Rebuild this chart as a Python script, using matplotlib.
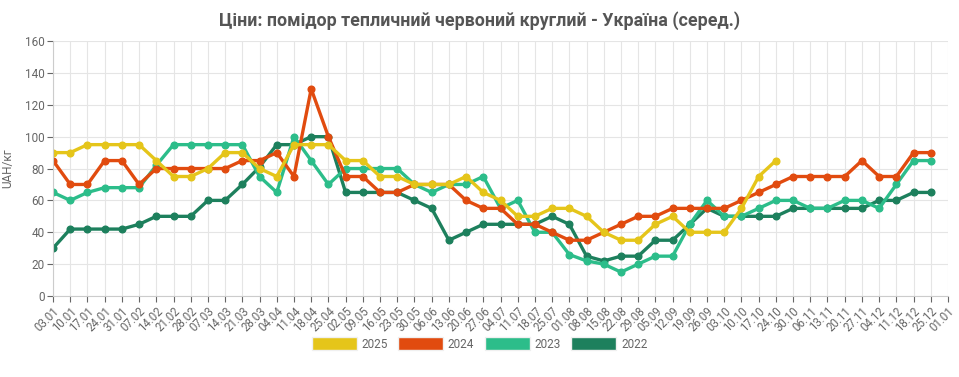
import matplotlib
matplotlib.use("Agg")
from matplotlib import pyplot as plt
from matplotlib.patches import Patch

plt.rcParams['font.family'] = ['Roboto', 'DejaVu Sans']

# підписи тижнів
weeks = ["03.01", "10.01", "17.01", "24.01", "31.01", "07.02", "14.02", "21.02", "28.02",
         "07.03", "14.03", "21.03", "28.03", "04.04", "11.04", "18.04", "25.04", "02.05",
         "09.05", "16.05", "23.05", "30.05", "06.06", "13.06", "20.06", "27.06", "04.07",
         "11.07", "18.07", "25.07", "01.08", "08.08", "15.08", "22.08", "29.08", "05.09",
         "12.09", "19.09", "26.09", "03.10", "10.10", "17.10", "24.10", "30.10", "06.11",
         "13.11", "20.11", "27.11", "04.12", "11.12", "18.12", "25.12", "01.01"]

y2025 = [90, 90, 95, 95, 95, 95, 85, 75, 75, 80, 90, 90, 80, 75, 95, 95, 95, 85, 85, 75,
         75, 70, 70, 70, 75, 65, 60, 50, 50, 55, 55, 50, 40, 35, 35, 45, 50, 40, 40, 40,
         55, 75, 85]
y2024 = [85, 70, 70, 85, 85, 70, 80, 80, 80, 80, 80, 85, 85, 90, 75, 130, 100, 75, 75, 65,
         65, 70, 70, 70, 60, 55, 55, 45, 45, 40, 35, 35, 40, 45, 50, 50, 55, 55, 55, 55,
         60, 65, 70, 75, 75, 75, 75, 85, 75, 75, 90, 90]
y2023 = [65, 60, 65, 68, 68, 68, 82, 95, 95, 95, 95, 95, 75, 65, 100, 85, 70, 80, 80, 80,
         80, 70, 65, 70, 70, 75, 55, 60, 40, 40, 26, 22, 20, 15, 20, 25, 25, 45, 60, 50,
         50, 55, 60, 60, 55, 55, 60, 60, 55, 70, 85, 85]
y2022 = [30, 42, 42, 42, 42, 45, 50, 50, 50, 60, 60, 70, 81, 95, 95, 100, 100, 65, 65, 65,
         65, 60, 55, 35, 40, 45, 45, 45, 45, 50, 45, 25, 22, 25, 25, 35, 35, 45, 55, 50,
         50, 50, 50, 55, 55, 55, 55, 55, 60, 60, 65, 65]

years = ["2025", "2024", "2023", "2022"]
colors = ["#e5c51a", "#e14b0f", "#2cbd8a", "#1d805d"]
series = [y2025, y2024, y2023, y2022]

fig = plt.figure(figsize=(9.59, 3.77), dpi=100)
ax = fig.add_axes([0.0553, 0.2149, 0.9332, 0.6761])

for vals, c in list(zip(series, colors))[::-1]:
    ax.plot(range(len(vals)), vals, color=c, lw=2.4, marker="o", ms=4.8,
            solid_joinstyle="round")

ax.set_xlim(0, len(weeks) - 1)
ax.set_ylim(0, 160)
ax.set_yticks(range(0, 161, 20))
ax.set_xticks(range(len(weeks)))
ax.set_xticklabels(weeks, rotation=45, ha="right", rotation_mode="anchor")
ax.tick_params(axis="x", labelsize=8.3, colors="#666666", length=4, pad=2)
ax.tick_params(axis="y", labelsize=8.5, colors="#666666", length=4, pad=2)
ax.grid(True, color="#e5e5e5", lw=0.8)
ax.set_axisbelow(True)
for s in ["top", "right"]:
    ax.spines[s].set_visible(False)
for s in ["left", "bottom"]:
    ax.spines[s].set_color("#cccccc")
ax.set_ylabel("UAH/кг", fontsize=8.5, color="#666666", labelpad=8)

fig.text(0.5, 0.945, "Ціни: помідор тепличний червоний круглий - Україна (серед.)",
         ha="center", va="center", fontsize=12.8, fontweight="bold", color="#555555")

handles = [Patch(facecolor=c, edgecolor="#f0f0f0", lw=1) for c in colors]
fig.legend(handles, years, loc="center", bbox_to_anchor=(0.5, 0.088), ncol=4,
           frameon=False, fontsize=8.5, handlelength=3.8, handleheight=1.3,
           columnspacing=0.9, handletextpad=0.4, labelcolor="#666666")

fig.savefig("out.png", dpi=100)
